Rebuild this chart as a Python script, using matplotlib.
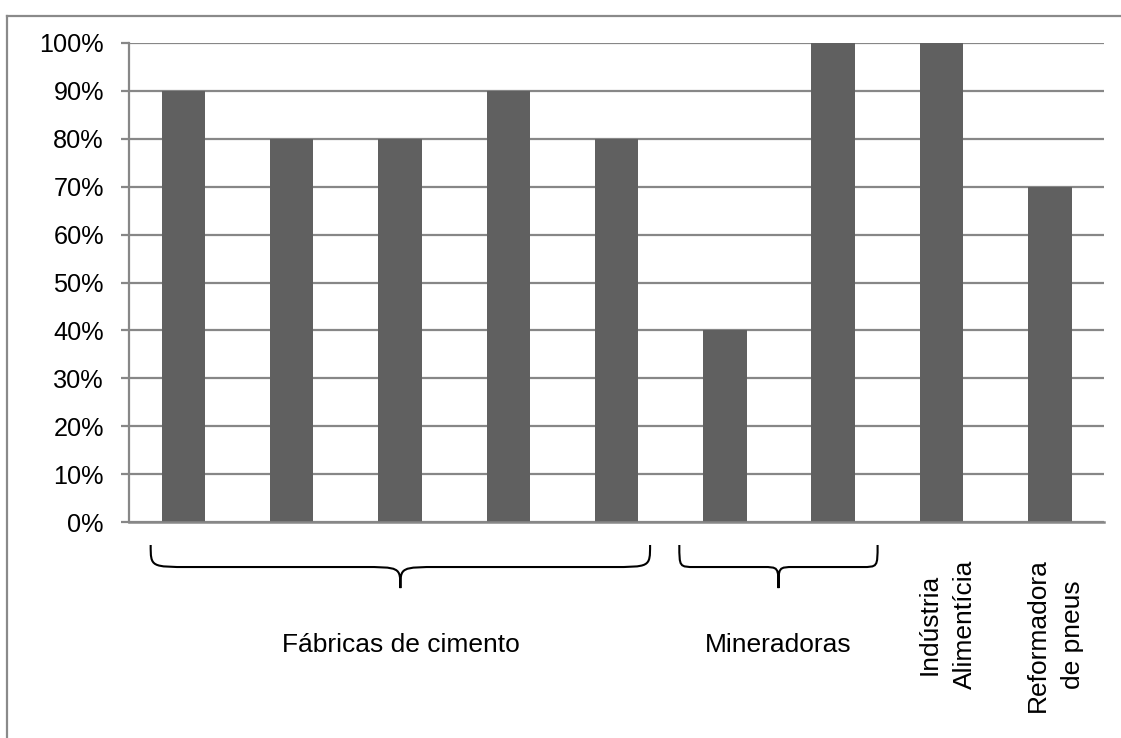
import matplotlib
matplotlib.use("Agg")
import matplotlib.pyplot as plt
from matplotlib.path import Path
from matplotlib.patches import PathPatch
from matplotlib.lines import Line2D
from matplotlib.transforms import Bbox, blended_transform_factory

plt.rcParams['font.family'] = ['Liberation Sans', 'DejaVu Sans']

values = [90, 80, 80, 90, 80, 40, 100, 100, 70]
yticks = [0, 10, 20, 30, 40, 50, 60, 70, 80, 90, 100]
ytick_labels = [f"{v}%" for v in yticks]

# groups: (first bar, last bar, label)
brace_groups = [(0, 4, "Fábricas de cimento"), (5, 6, "Mineradoras")]
# (bar, label, vertical position in axes coords)
rotated_labels = [(7, "Indústria\nAlimentícia", -0.213),
                  (8, "Reformadora\nde pneus", -0.236)]

W, H = 1121, 738
fig = plt.figure(figsize=(W / 100, H / 100), dpi=100)
ax = fig.add_axes([129 / W, 1 - 522 / H, (1104 - 129) / W, (522 - 43) / H])

grid_col = "#878787"
ax.bar(range(len(values)), values, width=0.4, color="#606060", zorder=3)
ax.set_xlim(-0.5, len(values) - 0.5)
ax.set_ylim(0, 100)
ax.set_yticks(yticks)
ax.set_yticklabels(ytick_labels, fontsize=18.2)
ax.set_xticks([])
ax.yaxis.grid(True, color=grid_col, linewidth=1.6, zorder=0)
ax.tick_params(axis="y", length=6, width=1.6, color=grid_col, pad=12)
for s in ["top", "right"]:
    ax.spines[s].set_visible(False)
ax.spines["left"].set_color(grid_col)
ax.spines["left"].set_linewidth(1.6)
ax.spines["bottom"].set_color(grid_col)
ax.spines["bottom"].set_linewidth(1.8)
ax.spines["bottom"].set_zorder(4)

trans = blended_transform_factory(ax.transData, ax.transAxes)


def brace(x0, x1, yt=-0.048, ym=-0.094, yb=-0.138, frac=0.08):
    c = (x1 - x0) * frac
    xm = (x0 + x1) / 2
    verts = [(x0, yt), (x0, ym), (x0, ym), (x0 + c, ym),
             (xm - c, ym), (xm, ym), (xm, ym), (xm, yb),
             (xm, ym), (xm, ym), (xm + c, ym),
             (x1 - c, ym), (x1, ym), (x1, ym), (x1, yt)]
    codes = [Path.MOVETO, Path.CURVE4, Path.CURVE4, Path.CURVE4,
             Path.LINETO, Path.CURVE4, Path.CURVE4, Path.CURVE4,
             Path.CURVE4, Path.CURVE4, Path.CURVE4,
             Path.LINETO, Path.CURVE4, Path.CURVE4, Path.CURVE4]
    p = PathPatch(Path(verts, codes), transform=trans, fill=False,
                  edgecolor="black", linewidth=1.5, clip_on=False)
    ax.add_patch(p)


for i0, i1, label in brace_groups:
    if i1 - i0 > 1:
        x0, x1 = i0 - 0.3, i1 + 0.31
    else:
        x0, x1 = i0 - 0.42, i1 + 0.41
    brace(x0, x1)
    ax.text((x0 + x1) / 2, -0.257, label, transform=trans, ha="center",
            va="center", fontsize=19)

clip = Bbox.from_extents(0, 0, 1083, H)
for i, label, yc in rotated_labels:
    t = ax.text(i + 0.05, yc, label, transform=trans, rotation=90,
                ha="center", va="center", multialignment="center",
                fontsize=19, linespacing=1.6)
    t.set_clip_box(clip)
    t.set_clip_on(True)

# outer frame on the left and top
fig.add_artist(Line2D([7 / W, 7 / W], [0, 1 - 16 / H], color="#8a8a8a",
                      linewidth=1.6, transform=fig.transFigure))
fig.add_artist(Line2D([7 / W, 1.01], [1 - 16 / H, 1 - 16 / H], color="#8a8a8a",
                      linewidth=1.6, transform=fig.transFigure))

fig.savefig("out.png", dpi=100)
